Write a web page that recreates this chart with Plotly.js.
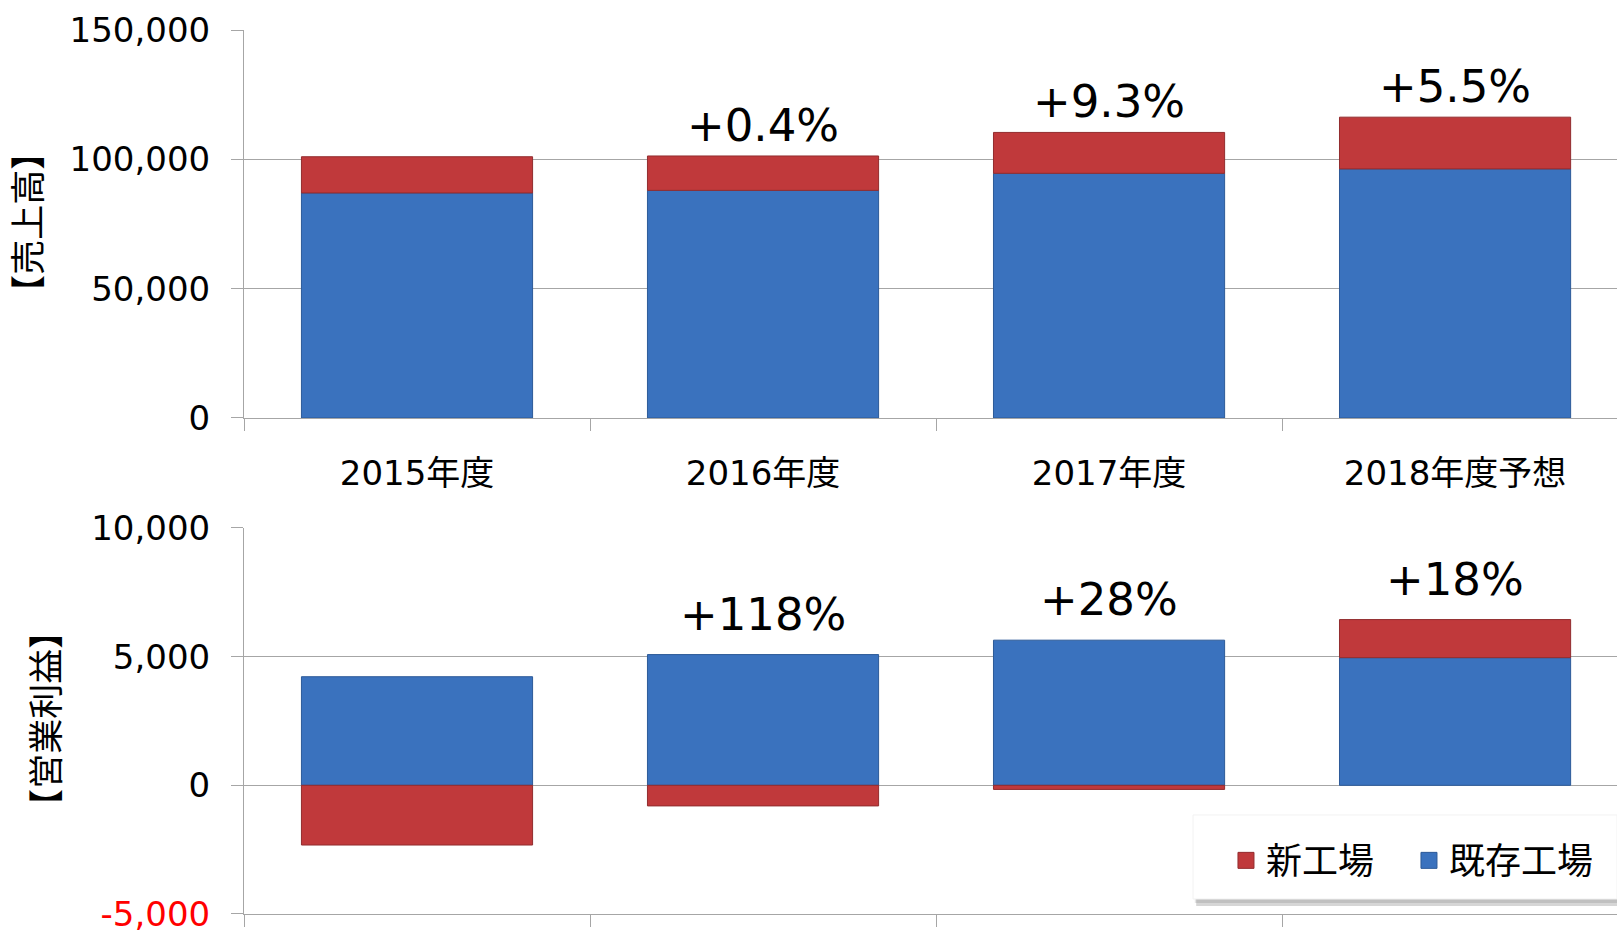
<!DOCTYPE html>
<html>
<head>
<meta charset="utf-8">
<script src="https://cdn.plot.ly/plotly-3.0.1.min.js"></script>
<style>
  html, body { margin: 0; padding: 0; background: #ffffff; overflow: hidden; }
  #chart { width: 1617px; height: 930px; }
</style>
</head>
<body>
<div id="chart"></div>
<script>
// ---- data ----
const categories = ['2015年度', '2016年度', '2017年度', '2018年度予想'];
const salesExisting = [87000, 88000, 94600, 96300];   // 既存工場 売上高
const salesNew = [14000, 13300, 15800, 20000];        // 新工場 売上高
const profitExisting = [4220, 5080, 5640, 4960];      // 既存工場 営業利益
const profitNew = [-2320, -800, -160, 1480];          // 新工場 営業利益
const salesGrowth = ['', '+0.4%', '+9.3%', '+5.5%'];
const profitGrowth = ['', '+118%', '+28%', '+18%'];
const salesTickVals = [0, 50000, 100000, 150000];
const salesTickText = ['0', '50,000', '100,000', '150,000'];
const profitTickVals = [-5000, 0, 5000, 10000];
const profitTickText = ['<span style="color:#ff0000">-5,000</span>', '0', '5,000', '10,000'];
const seriesNames = ['新工場', '既存工場'];
const axisTitles = ['【売上高】', '【営業利益】'];

// ---- style ----
const FONT = 'DejaVu Sans, Noto Sans CJK JP, sans-serif';
const BLUE = '#3a72be';
const BLUE_EDGE = '#2c5a98';
const RED = '#c0393b';
const RED_EDGE = '#922c2e';
const GRID = '#a6a6a6';

const salesTotals = salesExisting.map((v, i) => v + salesNew[i]);
const profitTops = profitExisting.map((v, i) => Math.max(v, 0) + Math.max(profitNew[i], 0));

const traces = [
  { type: 'bar', x: categories, y: salesExisting, xaxis: 'x', yaxis: 'y', name: seriesNames[1], showlegend: false,
    marker: { color: BLUE, line: { color: BLUE_EDGE, width: 1 } }, hoverinfo: 'y' },
  { type: 'bar', x: categories, y: salesNew, xaxis: 'x', yaxis: 'y', name: seriesNames[0], showlegend: false,
    marker: { color: RED, line: { color: RED_EDGE, width: 1 } }, hoverinfo: 'y' },
  { type: 'bar', x: categories, y: profitExisting, xaxis: 'x2', yaxis: 'y2', name: seriesNames[1], showlegend: false,
    marker: { color: BLUE, line: { color: BLUE_EDGE, width: 1 } }, hoverinfo: 'y' },
  { type: 'bar', x: categories, y: profitNew, xaxis: 'x2', yaxis: 'y2', name: seriesNames[0], showlegend: false,
    marker: { color: RED, line: { color: RED_EDGE, width: 1 } }, hoverinfo: 'y' },
  // legend entries (larger square swatches)
  { type: 'scatter', mode: 'markers', x: [null], y: [null], xaxis: 'x2', yaxis: 'y2', name: seriesNames[0],
    marker: { symbol: 'square', size: 16, color: RED, line: { color: RED_EDGE, width: 1 } }, legendrank: 1 },
  { type: 'scatter', mode: 'markers', x: [null], y: [null], xaxis: 'x2', yaxis: 'y2', name: seriesNames[1],
    marker: { symbol: 'square', size: 16, color: BLUE, line: { color: BLUE_EDGE, width: 1 } }, legendrank: 2 }
];

const annotations = [];
categories.forEach((c, i) => {
  if (salesGrowth[i]) annotations.push({
    x: c, y: salesTotals[i], xref: 'x', yref: 'y', text: salesGrowth[i], showarrow: false,
    yanchor: 'bottom', yshift: 2, font: { family: FONT, size: 45, color: '#000' }
  });
  if (profitGrowth[i]) annotations.push({
    x: c, y: profitTops[i], xref: 'x2', yref: 'y2', text: profitGrowth[i], showarrow: false,
    yanchor: 'bottom', yshift: 12, font: { family: FONT, size: 45, color: '#000' }
  });
});
annotations.push({
  xref: 'paper', yref: 'paper', x: 0, y: 0.782, xshift: -215, xanchor: 'center', yanchor: 'middle',
  text: axisTitles[0], textangle: -90, showarrow: false, font: { family: FONT, size: 35, color: '#000' }
});
annotations.push({
  xref: 'paper', yref: 'paper', x: 0, y: 0.221, xshift: -197, xanchor: 'center', yanchor: 'middle',
  text: axisTitles[1], textangle: -90, showarrow: false, font: { family: FONT, size: 35, color: '#000' }
});

const xCommon = {
  type: 'category', range: [-0.5, 3.468], tickson: 'boundaries', ticks: 'outside', ticklen: 12,
  tickcolor: GRID, showline: true, linecolor: GRID, linewidth: 1, showgrid: false, fixedrange: true
};
const yCommon = {
  ticks: 'outside', ticklen: 12, tickcolor: GRID, showline: true, linecolor: GRID, gridcolor: GRID,
  zeroline: false, tickfont: { family: FONT, size: 34, color: '#000' }, ticklabelstandoff: 14,
  ticklabeloverflow: 'allow', fixedrange: true
};

const layout = {
  width: 1617, height: 930,
  margin: { l: 244, r: 0, t: 30, b: 16 },
  paper_bgcolor: '#ffffff', plot_bgcolor: '#ffffff',
  barmode: 'relative', bargap: 0.332,
  showlegend: true,
  font: { family: FONT, color: '#000' },
  xaxis: Object.assign({}, xCommon, { anchor: 'y', domain: [0, 1],
    tickfont: { family: FONT, size: 34, color: '#000' }, ticklabelstandoff: 25 }),
  xaxis2: Object.assign({}, xCommon, { anchor: 'y2', domain: [0, 1], showticklabels: false }),
  yaxis: Object.assign({}, yCommon, { anchor: 'x', domain: [0.5611, 1], range: [0, 150000],
    tickvals: salesTickVals, ticktext: salesTickText }),
  yaxis2: Object.assign({}, yCommon, { anchor: 'x2', domain: [0, 0.4367], range: [-5000, 10000],
    tickvals: profitTickVals, ticktext: profitTickText }),
  legend: {
    orientation: 'h', x: 0.7152, y: 0.0945, xanchor: 'left', yanchor: 'top',
    bgcolor: 'rgba(0,0,0,0)', borderwidth: 0,
    font: { family: FONT, size: 36, color: '#000' }, entrywidth: 138, entrywidthmode: 'pixels',
    itemsizing: 'trace'
  },
  shapes: [
    // legend shadow
    { type: 'rect', xref: 'paper', yref: 'paper', x0: 0.6935, x1: 1.0, y0: 0.0090, y1: 0.100,
      fillcolor: 'rgba(0,0,0,0.16)', line: { width: 0 }, layer: 'above' },
    { type: 'rect', xref: 'paper', yref: 'paper', x0: 0.6925, x1: 1.0, y0: 0.0125, y1: 0.100,
      fillcolor: 'rgba(0,0,0,0.10)', line: { width: 0 }, layer: 'above' },
    // legend box
    { type: 'rect', xref: 'paper', yref: 'paper', x0: 0.6912, x1: 1.0, y0: 0.017, y1: 0.112,
      fillcolor: '#ffffff', line: { color: '#f2f2f2', width: 1 }, layer: 'above' }
  ],
  annotations: annotations
};

Plotly.newPlot('chart', traces, layout, { displayModeBar: false, staticPlot: true });
</script>
</body>
</html>
